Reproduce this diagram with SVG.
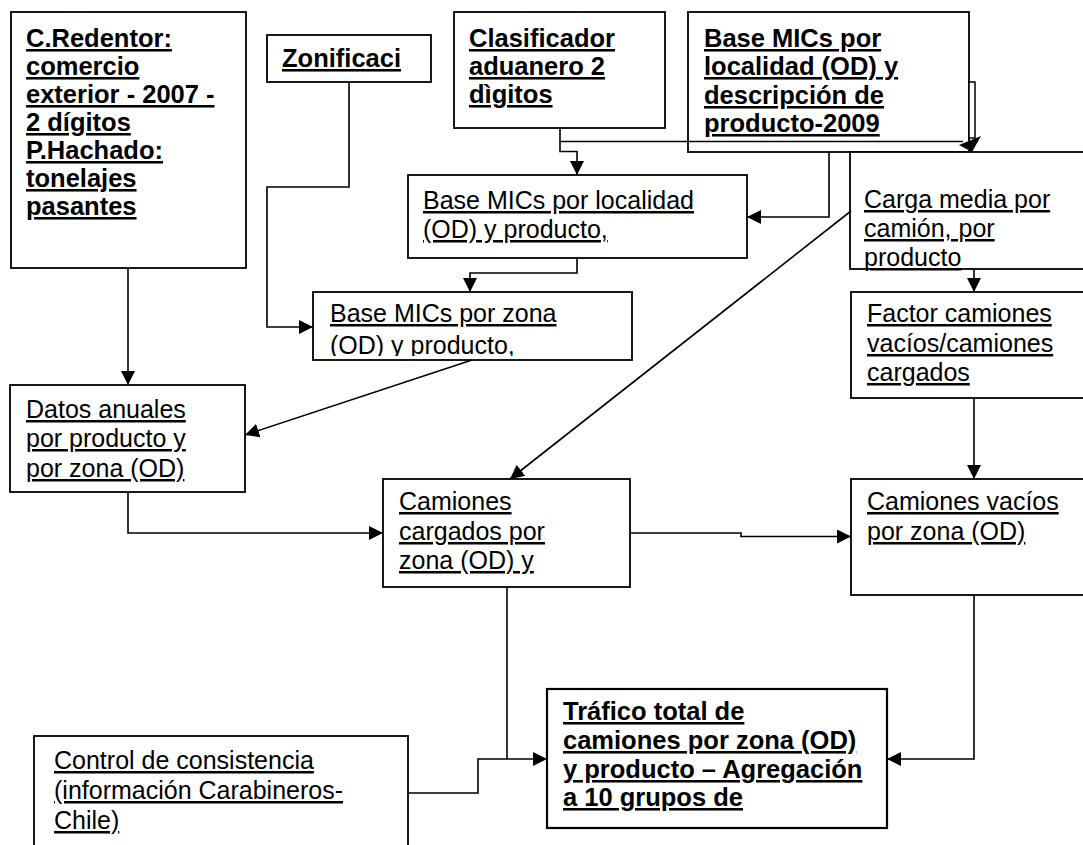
<svg xmlns="http://www.w3.org/2000/svg" width="1083" height="845" viewBox="0 0 1083 845">
<style>
.box{fill:#fff;stroke:#000;stroke-width:1.8}
.thick{stroke-width:2.2}
.t{font-family:"Liberation Sans",Arial,sans-serif;font-size:25px;fill:#000;text-decoration:underline}
.b{font-weight:bold;font-size:25.5px}
.c{fill:none;stroke:#000;stroke-width:1.6}
</style>
<defs>
<marker id="arr" viewBox="0 0 14 14" refX="14" refY="7" markerWidth="14" markerHeight="14" orient="auto" markerUnits="userSpaceOnUse">
<path d="M0,0 L14,7 L0,14 z" fill="#000"/>
</marker>
<clipPath id="clipZona"><rect x="313" y="292" width="320" height="64"/></clipPath>
</defs>
<rect width="1083" height="845" fill="#fff"/>

<g id="n-redentor">
<rect class="box" x="11" y="12" width="235" height="256"/>
<text class="t b" x="26" y="47">C.Redentor:</text>
<text class="t b" x="26" y="75">comercio</text>
<text class="t b" x="26" y="103">exterior - 2007 -</text>
<text class="t b" x="26" y="131">2 dígitos</text>
<text class="t b" x="26" y="159">P.Hachado:</text>
<text class="t b" x="26" y="187">tonelajes</text>
<text class="t b" x="26" y="215">pasantes</text>
</g>

<g id="n-zonificaci">
<rect class="box" x="267" y="35" width="164" height="47"/>
<text class="t b" x="282" y="67">Zonificaci</text>
</g>

<g id="n-clasificador">
<rect class="box" x="454" y="12" width="211" height="116"/>
<text class="t b" x="469" y="47">Clasificador</text>
<text class="t b" x="469" y="75">aduanero 2</text>
<text class="t b" x="469" y="103">dìgitos</text>
</g>

<g id="n-basemics2009">
<rect class="box" x="688" y="12" width="281" height="140"/>
<text class="t b" x="704" y="47">Base MICs por</text>
<text class="t b" x="704" y="75">localidad (OD) y</text>
<text class="t b" x="704" y="104">descripción de</text>
<text class="t b" x="704" y="132">producto-2009</text>
</g>

<g id="n-carga">
<rect class="box" x="850" y="152" width="240" height="117"/>
<text class="t" x="864" y="208">Carga media por</text>
<text class="t" x="864" y="237">camión, por</text>
<text class="t" x="864" y="266">producto</text>
</g>

<g id="n-localidad">
<rect class="box" x="408" y="175" width="339" height="83"/>
<text class="t" x="423" y="209">Base MICs por localidad</text>
<text class="t" x="423" y="238">(OD) y producto,</text>
</g>

<g id="n-zona">
<rect class="box" x="313" y="292" width="319" height="68"/>
<g clip-path="url(#clipZona)">
<text class="t" x="330" y="322">Base MICs por zona</text>
<text class="t" x="330" y="354">(OD) y producto,</text>
</g>
</g>

<g id="n-factor">
<rect class="box" x="851" y="292" width="240" height="106"/>
<text class="t" x="867" y="322">Factor camiones</text>
<text class="t" x="867" y="352">vacíos/camiones</text>
<text class="t" x="867" y="381">cargados</text>
</g>

<g id="n-datos">
<rect class="box" x="10" y="385" width="235" height="107"/>
<text class="t" x="26" y="418">Datos anuales</text>
<text class="t" x="26" y="447">por producto y</text>
<text class="t" x="26" y="477">por zona (OD)</text>
</g>

<g id="n-cargados">
<rect class="box" x="383" y="479" width="247" height="108"/>
<text class="t" x="399" y="510">Camiones</text>
<text class="t" x="399" y="540">cargados por</text>
<text class="t" x="399" y="569">zona (OD) y</text>
</g>

<g id="n-vacios">
<rect class="box" x="851" y="479" width="240" height="116"/>
<text class="t" x="867" y="510">Camiones vacíos</text>
<text class="t" x="867" y="540">por zona (OD)</text>
</g>

<g id="n-control">
<rect class="box" x="34" y="736" width="374" height="120"/>
<text class="t" x="54" y="769">Control de consistencia</text>
<text class="t" x="54" y="799">(información Carabineros-</text>
<text class="t" x="54" y="829">Chile)</text>
</g>

<g id="n-trafico">
<rect class="box thick" x="547" y="689" width="340" height="139"/>
<text class="t b" x="563" y="720">Tráfico total de</text>
<text class="t b" x="563" y="749">camiones por zona (OD)</text>
<text class="t b" x="563" y="778">y producto – Agregación</text>
<text class="t b" x="563" y="806">a 10 grupos de</text>
</g>

<g id="connectors">
<path class="c" d="M560,128 V151.5 H577 V175" marker-end="url(#arr)"/>
<path class="c" d="M560,141.5 H963"/>
<rect x="969" y="82" width="6" height="56" fill="#fff" stroke="#000" stroke-width="1.5"/>
<polygon points="959,145 981,136 972,152" fill="#000"/>
<path class="c" d="M829,152 V217 H747" marker-end="url(#arr)"/>
<path class="c" d="M577,258 V273 H470 V292" marker-end="url(#arr)"/>
<path class="c" d="M349,82 V187 H267 V327 H313" marker-end="url(#arr)"/>
<path class="c" d="M128,268 V385" marker-end="url(#arr)"/>
<path class="c" d="M472,360 L245,435" marker-end="url(#arr)"/>
<path class="c" d="M851,211 L510,479" marker-end="url(#arr)"/>
<path class="c" d="M974,269 V292" marker-end="url(#arr)"/>
<path class="c" d="M974,398 V479" marker-end="url(#arr)"/>
<path class="c" d="M128,492 V533 H383" marker-end="url(#arr)"/>
<path class="c" d="M630,533 H741 V536.5 H851" marker-end="url(#arr)"/>
<path class="c" d="M507,587 V759"/>
<path class="c" d="M408,793 H478 V759 H547" marker-end="url(#arr)"/>
<path class="c" d="M974,595 V759 H887" marker-end="url(#arr)"/>
</g>
</svg>
